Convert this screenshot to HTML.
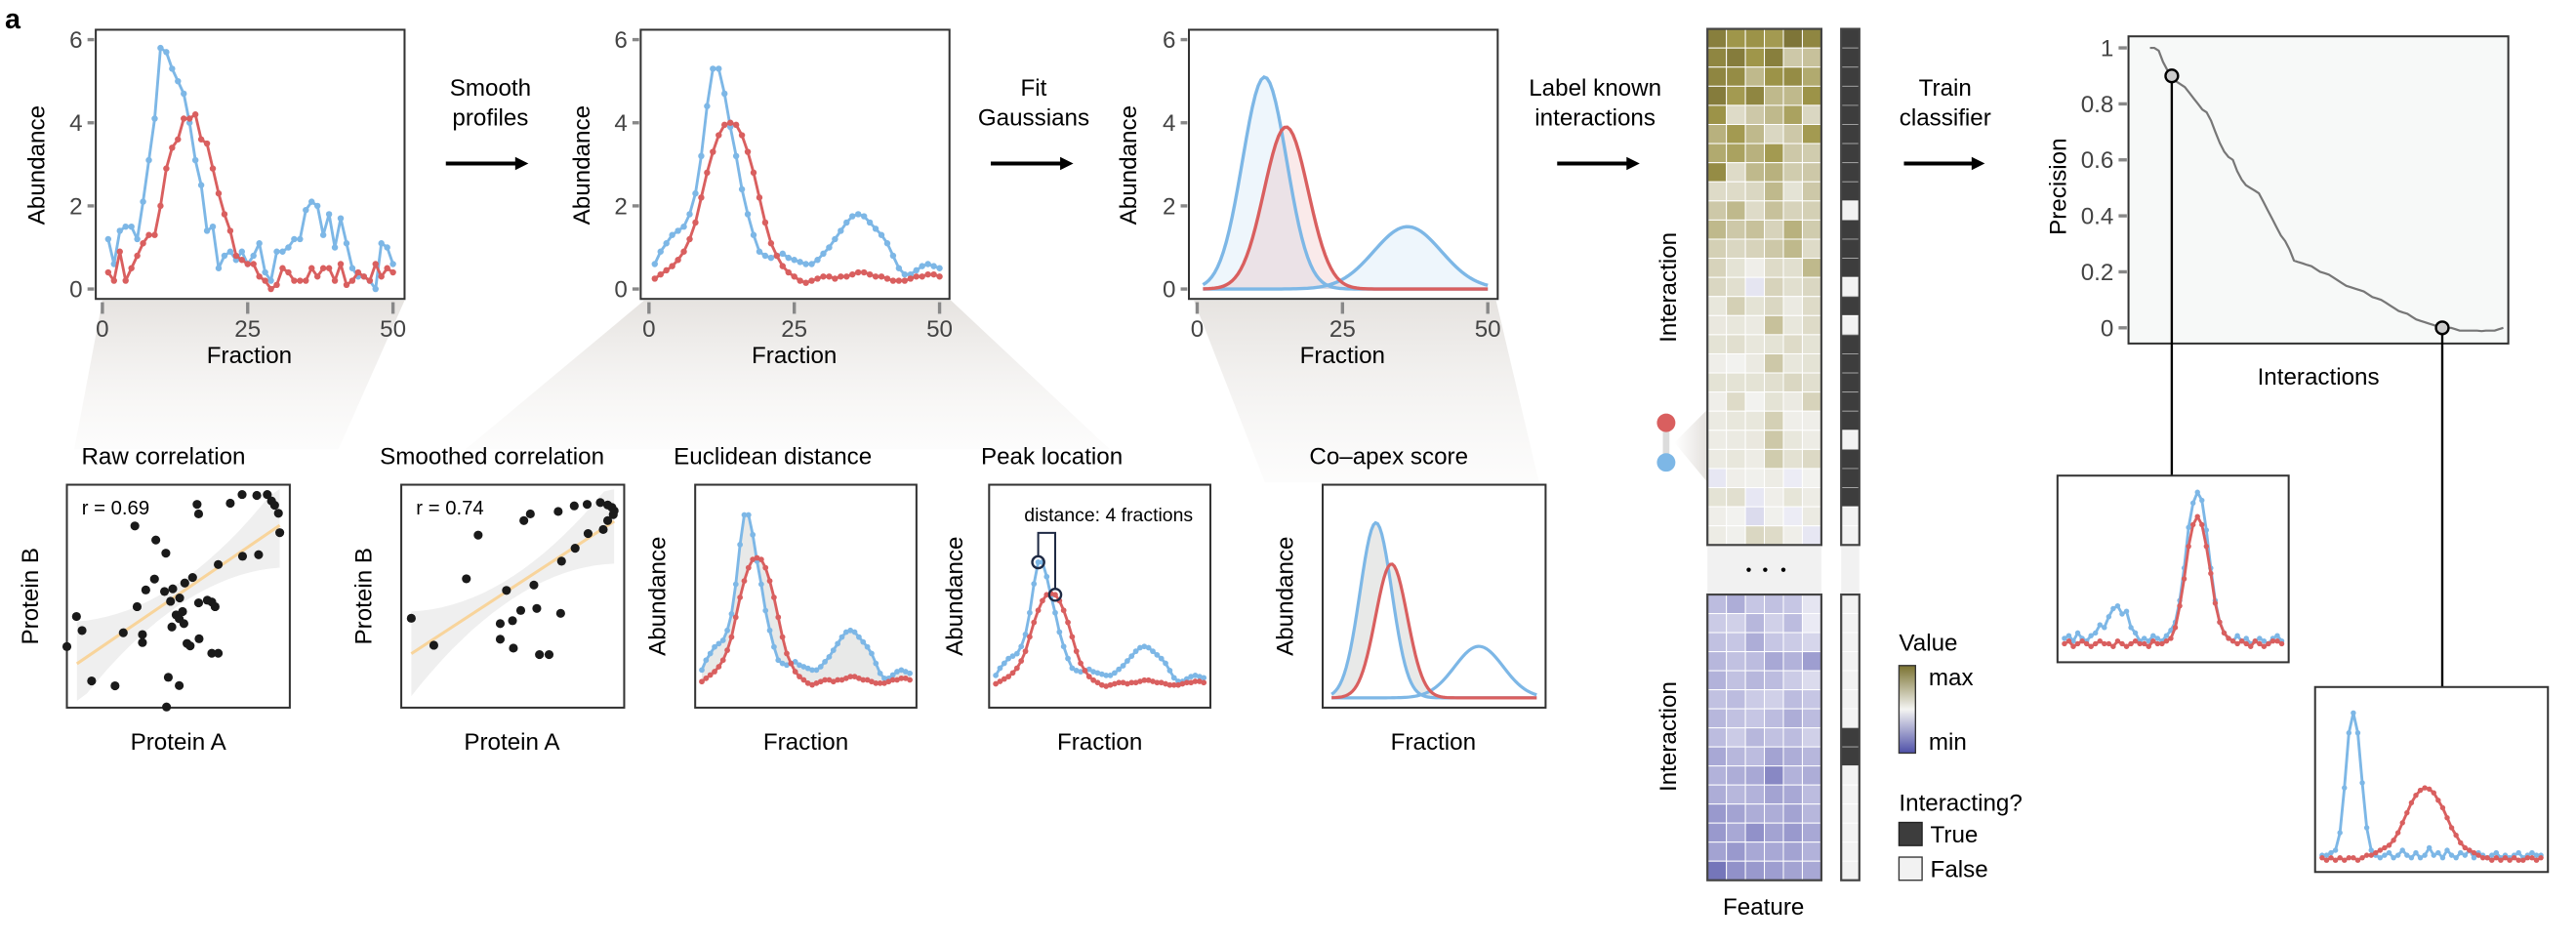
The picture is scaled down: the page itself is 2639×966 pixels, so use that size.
<!DOCTYPE html>
<html><head><meta charset="utf-8"><style>
html,body{margin:0;padding:0;background:#fff;}
svg{display:block;font-family:"Liberation Sans",Arial,sans-serif;}
</style></head><body>
<svg id="fig" width="2639" height="966" viewBox="0 0 1560 571" preserveAspectRatio="none" xmlns="http://www.w3.org/2000/svg">
<defs>
<linearGradient id="shade" x1="0" y1="0" x2="0" y2="1"><stop offset="0" stop-color="#e6e3e0"/><stop offset="1" stop-color="#f6f5f4" stop-opacity="0.3"/></linearGradient>
<linearGradient id="tri" x1="0" y1="0" x2="1" y2="0"><stop offset="0" stop-color="#fff"/><stop offset="1" stop-color="#e4e1dd"/></linearGradient>
<linearGradient id="cbar" x1="0" y1="0" x2="0" y2="1"><stop offset="0" stop-color="#7a7230"/><stop offset="0.5" stop-color="#f4f4f2"/><stop offset="1" stop-color="#4e50a8"/></linearGradient>
</defs>
<g id="shades">
<polygon points="62,182 245,182 205,272 45,272" fill="url(#shade)"/>
<polygon points="390,182 576,182 672,272 282,272" fill="url(#shade)"/>
<polygon points="723,182 906,182 932,292 766,292" fill="url(#shade)"/>
</g>
<text x="3" y="17" font-size="17" font-weight="bold">a</text>
<g font-size="14.3" fill="#000" text-anchor="middle">
<text x="297" y="58">Smooth</text>
<text x="297" y="76">profiles</text>
<text x="626" y="58">Fit</text>
<text x="626" y="76">Gaussians</text>
<text x="966" y="58">Label known</text>
<text x="966" y="76">interactions</text>
<text x="1178" y="58">Train</text>
<text x="1178" y="76">classifier</text>
<text x="99" y="281">Raw correlation</text>
<text x="298" y="281">Smoothed correlation</text>
<text x="468" y="281">Euclidean distance</text>
<text x="637" y="281">Peak location</text>
<text x="841" y="281">Co–apex score</text>
<text x="108" y="454">Protein A</text>
<text x="310" y="454">Protein A</text>
<text x="488" y="454">Fraction</text>
<text x="666" y="454">Fraction</text>
<text x="868" y="454">Fraction</text>
<text x="151" y="220">Fraction</text>
<text x="481" y="220">Fraction</text>
<text x="813" y="220">Fraction</text>
<text x="1404" y="233">Interactions</text>
<text x="1068" y="554">Feature</text>
<text transform="translate(27,100) rotate(-90)">Abundance</text>
<text transform="translate(357,100) rotate(-90)">Abundance</text>
<text transform="translate(688,100) rotate(-90)">Abundance</text>
<text transform="translate(23,361) rotate(-90)">Protein B</text>
<text transform="translate(225,361) rotate(-90)">Protein B</text>
<text transform="translate(403,361) rotate(-90)">Abundance</text>
<text transform="translate(583,361) rotate(-90)">Abundance</text>
<text transform="translate(783,361) rotate(-90)">Abundance</text>
<text transform="translate(1015,174) rotate(-90)">Interaction</text>
<text transform="translate(1015,446) rotate(-90)">Interaction</text>
<text transform="translate(1251,113) rotate(-90)">Precision</text>
</g>
<g font-size="14.3" fill="#000">
<text x="1150" y="394">Value</text>
<text x="1168" y="415">max</text>
<text x="1168" y="454">min</text>
<text x="1150" y="491">Interacting?</text>
<text x="1169" y="510">True</text>
<text x="1169" y="531">False</text>
<text x="176" y="40">protein A</text>
<text x="176" y="58">protein B</text>
</g>
<rect x="1150" y="403" width="10" height="53" fill="url(#cbar)" stroke="#333" stroke-width="0.8"/>
<rect x="1150" y="498" width="14" height="14" fill="#3d3d3d" stroke="#222" stroke-width="0.8"/>
<rect x="1150" y="519" width="14" height="14" fill="#f2f2f2" stroke="#333" stroke-width="0.8"/>
<g>
<line x1="151" y1="35" x2="168" y2="35" stroke="#7db7e6" stroke-width="3"/><circle cx="159.5" cy="35" r="3.2" fill="#7db7e6"/>
<line x1="151" y1="53" x2="168" y2="53" stroke="#d95f5f" stroke-width="3"/><circle cx="159.5" cy="53" r="3.2" fill="#d95f5f"/>
</g>
<g id="arrows" stroke="#000" stroke-width="2.4">
<line x1="270" y1="99" x2="314" y2="99"/><polygon points="312,95 320,99 312,103" fill="#000" stroke="none"/>
<line x1="600" y1="99" x2="644" y2="99"/><polygon points="642,95 650,99 642,103" fill="#000" stroke="none"/>
<line x1="943" y1="99" x2="987" y2="99"/><polygon points="985,95 993,99 985,103" fill="#000" stroke="none"/>
<line x1="1153" y1="99" x2="1196" y2="99"/><polygon points="1194,95 1202,99 1194,103" fill="#000" stroke="none"/>
</g>
<g>
<polygon points="1014,268 1034,248 1034,292" fill="url(#tri)"/>
<line x1="1009" y1="256" x2="1009" y2="280" stroke="#dcdcdc" stroke-width="4"/>
<circle cx="1009" cy="256" r="5.6" fill="#d95f5f"/>
<circle cx="1009" cy="280" r="5.6" fill="#7db7e6"/>
</g>
<g id="layer"></g>
</svg>
<script>
// ---------- data ----------
const rawA=[1.2,0.6,1.4,1.5,1.5,1.2,2.1,3.1,4.1,5.8,5.7,5.3,5.0,4.7,4.0,3.1,2.5,1.4,1.5,0.5,0.8,0.9,0.7,0.9,0.6,0.8,1.1,0.4,0.2,0.9,0.9,1.0,1.2,1.2,1.9,2.1,2.0,1.3,1.8,1.0,1.7,1.1,0.5,0.3,0.3,0.2,0.0,1.1,1.0,0.6];
const rawB=[0.4,0.2,0.9,0.2,0.5,0.8,1.1,1.3,1.3,2.0,2.9,3.4,3.6,4.1,4.1,4.2,3.6,3.5,2.9,2.3,1.8,1.4,0.8,0.7,0.6,0.6,0.3,0.2,0.0,0.1,0.5,0.4,0.2,0.2,0.2,0.5,0.3,0.5,0.5,0.2,0.6,0.1,0.2,0.4,0.3,0.2,0.6,0.3,0.5,0.4];
const smA=[0.6,0.9,1.1,1.3,1.4,1.5,1.8,2.3,3.2,4.4,5.3,5.3,4.7,3.9,3.2,2.4,1.8,1.3,0.9,0.8,0.75,0.8,0.85,0.75,0.7,0.65,0.6,0.6,0.7,0.85,1.0,1.2,1.4,1.6,1.75,1.8,1.75,1.6,1.45,1.3,1.1,0.8,0.5,0.35,0.35,0.45,0.55,0.6,0.55,0.5];
const smB=[0.25,0.35,0.45,0.55,0.7,0.9,1.2,1.6,2.2,2.8,3.3,3.7,3.95,4.0,3.95,3.7,3.3,2.8,2.2,1.6,1.1,0.8,0.55,0.4,0.3,0.2,0.15,0.2,0.25,0.3,0.3,0.25,0.3,0.3,0.35,0.4,0.4,0.35,0.3,0.3,0.25,0.2,0.2,0.2,0.25,0.3,0.3,0.35,0.35,0.3];
const gaussMu=[11.6,15.3,36.2];
const gaussSd=[3.8,3.8,5.8];
const gaussAmp=[5.1,3.9,1.5];
const gaussColor=['A','B','A'];
const rawCorA=[.584,.591,.733,.786,.852,.899,.918,.932,.949,.955,.305,.399,.444,.679,.788,.860,.564,.393,.529,.475,.438,.354,.506,.465,.315,.591,.630,.650,.665,.519,.490,.504,.525,.471,.043,.068,.253,.339,.339,.539,.553,.593,.650,.679,.0,.111,.216,.455,.504,.447];
const rawCorB=[.912,.869,.917,.956,.952,.956,.927,.908,.872,.785,.815,.752,.693,.642,.679,.686,.584,.577,.559,.533,.521,.528,.492,.477,.453,.470,.482,.474,.453,.431,.416,.399,.377,.362,.409,.346,.336,.328,.292,.288,.277,.309,.244,.244,.274,.120,.098,.136,.099,.003];
const rawFit=[0.197,0.818];
const smCorA=[.345,.550,.579,.704,.776,.834,.893,.926,.945,.955,.951,.926,.906,.838,.780,.719,.595,.472,.292,.045,.146,.444,.499,.536,.608,.715,.444,.503,.620,.663];
const smCorB=[.774,.839,.869,.880,.905,.912,.920,.909,.898,.883,.866,.839,.799,.781,.715,.657,.550,.526,.578,.401,.280,.377,.390,.436,.445,.423,.307,.267,.238,.238];
const smFit=[0.242,0.836];
const heatTop=[
[0.92,0.85,0.86,0.84,0.95,0.9],[0.9,0.93,0.85,0.92,0.72,0.74],[0.9,0.88,0.76,0.86,0.88,0.8],[0.93,0.84,0.9,0.76,0.76,0.86],
[0.86,0.62,0.72,0.76,0.82,0.64],[0.78,0.84,0.76,0.64,0.72,0.84],[0.8,0.82,0.78,0.84,0.72,0.7],[0.88,0.62,0.76,0.78,0.7,0.72],
[0.62,0.62,0.64,0.76,0.58,0.72],[0.72,0.76,0.62,0.74,0.66,0.68],[0.76,0.72,0.74,0.66,0.78,0.7],[0.68,0.64,0.66,0.72,0.76,0.62],
[0.66,0.58,0.52,0.62,0.6,0.76],[0.64,0.6,0.46,0.66,0.6,0.64],[0.56,0.68,0.58,0.64,0.54,0.62],[0.55,0.56,0.54,0.74,0.56,0.62],
[0.58,0.6,0.56,0.58,0.62,0.58],[0.52,0.5,0.54,0.72,0.56,0.58],[0.58,0.58,0.58,0.6,0.64,0.6],[0.52,0.62,0.5,0.58,0.54,0.66],
[0.54,0.56,0.56,0.68,0.52,0.52],[0.53,0.54,0.55,0.72,0.56,0.53],[0.54,0.56,0.53,0.7,0.59,0.63],[0.47,0.52,0.51,0.53,0.49,0.5],
[0.58,0.6,0.47,0.52,0.57,0.53],[0.52,0.5,0.42,0.51,0.49,0.54],[0.53,0.51,0.64,0.62,0.52,0.47]];
const heatBot=[
[0.3,0.24,0.34,0.32,0.34,0.46],[0.36,0.38,0.28,0.38,0.3,0.48],[0.32,0.34,0.24,0.34,0.36,0.4],[0.28,0.32,0.3,0.22,0.26,0.18],
[0.26,0.32,0.28,0.3,0.36,0.42],[0.32,0.3,0.36,0.38,0.3,0.34],[0.28,0.32,0.34,0.3,0.24,0.3],[0.3,0.36,0.28,0.32,0.3,0.38],
[0.22,0.28,0.3,0.2,0.24,0.28],[0.26,0.24,0.22,0.12,0.26,0.24],[0.24,0.28,0.26,0.2,0.22,0.3],[0.16,0.2,0.24,0.24,0.2,0.28],
[0.16,0.22,0.14,0.2,0.16,0.22],[0.2,0.16,0.22,0.22,0.2,0.26],[0.08,0.14,0.16,0.18,0.2,0.22]];
const labelTop=[1,1,1,1,1,1,1,1,1,0,1,1,1,0,1,0,1,1,1,1,1,0,1,1,1,0,0];
const labelBot=[0,0,0,0,0,0,0,1,1,0,0,0,0,0,0];
const prPrecision=[1.0,1.0,0.99,0.95,0.92,0.9,0.88,0.87,0.86,0.84,0.82,0.8,0.78,0.77,0.74,0.7,0.66,0.63,0.61,0.6,0.56,0.53,0.51,0.5,0.49,0.48,0.45,0.42,0.39,0.36,0.33,0.31,0.28,0.24,0.235,0.23,0.225,0.22,0.21,0.2,0.195,0.19,0.18,0.17,0.16,0.15,0.145,0.14,0.135,0.13,0.12,0.11,0.105,0.1,0.09,0.08,0.07,0.06,0.055,0.05,0.04,0.03,0.025,0.02,0.015,0.01,0.005,0.0,0.0,0.0,-0.005,-0.01,-0.01,-0.01,-0.01,-0.01,-0.012,-0.01,-0.01,-0.01,-0.005,0.0];
const prMarked=[5,67];
const inset1A=[0.4,0.5,0.3,0.6,0.4,0.3,0.5,0.6,0.9,0.8,1.2,1.5,1.6,1.3,1.4,0.8,0.6,0.3,0.4,0.3,0.5,0.4,0.3,0.5,0.7,1.0,1.8,3.0,4.5,5.4,5.8,5.5,4.4,3.0,1.8,1.0,0.6,0.4,0.3,0.5,0.3,0.4,0.2,0.3,0.4,0.3,0.2,0.4,0.5,0.3];
const inset1B=[0.2,0.3,0.1,0.2,0.3,0.2,0.1,0.2,0.3,0.2,0.2,0.1,0.3,0.2,0.1,0.2,0.3,0.2,0.2,0.1,0.3,0.2,0.2,0.3,0.4,0.8,1.6,2.6,3.8,4.6,4.9,4.6,3.8,2.8,1.7,1.0,0.6,0.4,0.3,0.2,0.3,0.2,0.1,0.3,0.2,0.1,0.2,0.3,0.3,0.2];
const inset2A=[0.3,0.3,0.4,0.5,1.2,3.0,5.2,6.0,5.2,3.2,1.4,0.5,0.3,0.2,0.3,0.4,0.2,0.3,0.5,0.3,0.2,0.4,0.2,0.3,0.6,0.3,0.4,0.2,0.5,0.3,0.2,0.4,0.3,0.5,0.2,0.4,0.3,0.2,0.3,0.4,0.2,0.3,0.2,0.3,0.4,0.2,0.3,0.4,0.3,0.3];
const inset2B=[0.2,0.1,0.2,0.1,0.2,0.1,0.2,0.2,0.1,0.2,0.3,0.3,0.4,0.5,0.6,0.7,0.9,1.2,1.6,2.0,2.4,2.7,2.9,3.0,2.95,2.8,2.5,2.2,1.8,1.4,1.1,0.8,0.6,0.5,0.4,0.3,0.2,0.2,0.1,0.2,0.1,0.2,0.1,0.2,0.1,0.1,0.2,0.2,0.1,0.2];
const abTicks=[0,2,4,6];
const fracTicks=[0,25,50];
const prTicks=[0,0.2,0.4,0.6,0.8,1];
const prTickLabels=['0','0.2','0.4','0.6','0.8','1'];
const peakIdx=[10,14];

// ---------- helpers ----------
const NS='http://www.w3.org/2000/svg';
const layer=document.getElementById('layer');
function el(tag,attrs,parent){const e=document.createElementNS(NS,tag);for(const k in attrs)e.setAttribute(k,attrs[k]);(parent||layer).appendChild(e);return e;}
const BLUE='#7db7e6',RED='#d95f5f';
function col(s){return s==='A'?BLUE:RED;}
function pathD(xs,ys){return xs.map((x,i)=>(i?'L':'M')+x.toFixed(2)+','+ys[i].toFixed(2)).join('');}
function gauss(f,k){return gaussAmp[k]*Math.exp(-Math.pow(f-gaussMu[k],2)/(2*gaussSd[k]*gaussSd[k]));}
function hex(h){return [1,3,5].map(i=>parseInt(h.substr(i,2),16));}
function mix(a,b,t){const A=hex(a),B=hex(b);return 'rgb('+A.map((v,i)=>Math.round(v+(B[i]-v)*t)).join(',')+')';}
function stops(st,t){for(let i=1;i<st.length;i++){if(t<=st[i][0]){const u=(t-st[i-1][0])/(st[i][0]-st[i-1][0]);return mix(st[i-1][1],st[i][1],u);}}return st[st.length-1][1];}
const olive=[[0,'#f2f2ef'],[0.45,'#ccc7a6'],[0.7,'#9f964a'],[1,'#6e652f']];
const lav=[[0,'#efeff6'],[0.4,'#bcbcdf'],[0.7,'#9696cc'],[1,'#4f51a6']];
function heatColor(v){return v>=0.5?stops(olive,(v-0.5)/0.5):stops(lav,(0.5-v)/0.5);}

// ---------- top profile panels ----------
function topPanel(name,bx,xa){
  const g=el('g',{});
  
  
  const xs=f=>xa+f*176/50, ys=v=>175-v*(151/6);
  const box=el('rect',{x:bx,y:18,width:187,height:163,fill:'#fff',stroke:'#333','stroke-width':1.2},g);
  
  
  abTicks.forEach(t=>{
    const tk=el('line',{x1:bx-5,x2:bx-1,y1:ys(t),y2:ys(t),stroke:'#888','stroke-width':2},g);
    
    
    const lb=el('text',{x:bx-8,y:ys(t)+5,'text-anchor':'end','font-size':14.3,fill:'#444'},g);
    lb.textContent=t;
    
    
  });
  fracTicks.forEach(t=>{
    const tk=el('line',{x1:xs(t),x2:xs(t),y1:183,y2:190,stroke:'#888','stroke-width':2},g);
    
    
    const lb=el('text',{x:xs(t),y:204,'text-anchor':'middle','font-size':14.3,fill:'#444'},g);
    lb.textContent=t;
    
    
  });
  return {g,xs,ys};
}
function profile(g,xs,ys,vals,c,name,r){
  const X=vals.map((v,i)=>xs(i+1)),Y=vals.map(v=>ys(v));
  const p=el('path',{d:pathD(X,Y),fill:'none',stroke:c,'stroke-width':1.7,'stroke-linejoin':'round'},g);
  
  
  X.forEach((x,i)=>{
    const d=el('circle',{cx:x,cy:Y[i],r:r,fill:c},g);
    
    
  });
}
let P=topPanel('raw-profile-chart',58,62);
profile(P.g,P.xs,P.ys,rawA,BLUE,'raw-protein-a',1.9);
profile(P.g,P.xs,P.ys,rawB,RED,'raw-protein-b',1.9);
P=topPanel('smoothed-profile-chart',388,393);
profile(P.g,P.xs,P.ys,smA,BLUE,'smoothed-protein-a',1.9);
profile(P.g,P.xs,P.ys,smB,RED,'smoothed-protein-b',1.9);
P=topPanel('gaussian-fit-chart',720,725);
const F=[];for(let f=1;f<=50;f+=0.5)F.push(f);
[0,1,2].forEach(k=>{
  const X=F.map(f=>P.xs(f)),Y=F.map(f=>P.ys(gauss(f,k)));
  const fill=el('path',{d:pathD(X,Y)+'L'+X[X.length-1]+','+P.ys(0)+'L'+X[0]+','+P.ys(0)+'Z',fill:k===1?'rgba(217,95,95,0.13)':'rgba(125,183,230,0.13)',stroke:'none'},P.g);
  
  
});
[2,0,1].forEach(k=>{
  const X=F.map(f=>P.xs(f)),Y=F.map(f=>P.ys(gauss(f,k)));
  const ln=el('path',{d:pathD(X,Y),fill:'none',stroke:col(gaussColor[k]),'stroke-width':2},P.g);
  
  
});

// ---------- scatter panels ----------
function scatter(name,bx,A,B,fit,rtxt){
  const g=el('g',{});
  
  
  const W=135,H=135,by=293.5;
  const xs=a=>bx+a*W, ys=b=>by+(1-b)*H;
  const box=el('rect',{x:bx,y:by,width:W,height:H,fill:'#fff',stroke:'#333','stroke-width':1.2},g);
  
  
  const x0=0.045,x1=0.955,yl=fit[0],yr=fit[1];
  const mid=(x0+x1)/2;
  const band=[];const n=20;
  for(let i=0;i<=n;i++){const a=x0+(x1-x0)*i/n;const w=0.05+0.28*Math.pow((a-mid)/(x1-x0),2)*2;band.push([a,yl+(yr-yl)*i/n+w]);}
  for(let i=n;i>=0;i--){const a=x0+(x1-x0)*i/n;const w=0.05+0.28*Math.pow((a-mid)/(x1-x0),2)*2;band.push([a,Math.max(0.03,yl+(yr-yl)*i/n-w)]);}
  const bp=el('polygon',{points:band.map(p=>xs(p[0]).toFixed(1)+','+ys(Math.min(0.98,p[1])).toFixed(1)).join(' '),fill:'#efefef'},g);
  
  
  const fl=el('line',{x1:xs(x0),y1:ys(yl),x2:xs(x1),y2:ys(yr),stroke:'#f8d49b','stroke-width':1.8},g);
  
  
  A.forEach((a,i)=>{
    const d=el('circle',{cx:xs(a),cy:ys(B[i]),r:2.7,fill:'#1a1a1a'},g);
    
    
  });
  const t=el('text',{x:bx+9,y:by+18,'font-size':12,fill:'#000'},g);
  t.textContent=rtxt;
  
  
}
scatter('raw-correlation-chart',40.5,rawCorA,rawCorB,rawFit,'r = 0.69');
scatter('smoothed-correlation-chart',243,smCorA,smCorB,smFit,'r = 0.74');

// ---------- small profile panels ----------
function smallBox(name,bx,by,W,H){
  const g=el('g',{});
  
  
  const box=el('rect',{x:bx,y:by,width:W,height:H,fill:'#fff',stroke:'#333','stroke-width':1.2},g);
  
  
  return g;
}
function fillBetween(g,X,Y1,Y2,name){
  let d=pathD(X,Y1);for(let i=X.length-1;i>=0;i--)d+='L'+X[i].toFixed(2)+','+Y2[i].toFixed(2);
  const p=el('path',{d:d+'Z',fill:'#e8e9e8',stroke:'none'},g);
  
  
}
let g=smallBox('euclidean-distance-chart',421,293.5,134,135);
let xs=f=>421+134*(0.03+0.94*(f-1)/49), ys=v=>293.5+135*(0.92-v*0.148);
fillBetween(g,smA.map((v,i)=>xs(i+1)),smA.map(ys),smB.map(ys),'euclidean-difference-area');
profile(g,xs,ys,smA,BLUE,'euclid-protein-a',1.7);
profile(g,xs,ys,smB,RED,'euclid-protein-b',1.7);
g=smallBox('peak-location-chart',599,293.5,134,135);
xs=f=>599+134*(0.03+0.94*(f-1)/49); ys=v=>293.5+135*(0.92-v*0.108);
profile(g,xs,ys,smA,BLUE,'peak-protein-a',1.7);
profile(g,xs,ys,smB,RED,'peak-protein-b',1.7);
const pa=[xs(peakIdx[0]+1),ys(smA[peakIdx[0]])],pb=[xs(peakIdx[1]+1),ys(smB[peakIdx[1]])];
const topY=293.5+135*0.216;
const br=el('path',{d:'M'+pa[0]+','+(pa[1]-3.5)+'L'+pa[0]+','+topY+'L'+pb[0]+','+topY+'L'+pb[0]+','+(pb[1]-3.5),fill:'none',stroke:'#1f2a44','stroke-width':1.2},g);


[pa,pb].forEach(p=>{
  const c=el('circle',{cx:p[0],cy:p[1],r:3.6,fill:'none',stroke:'#1f2a44','stroke-width':1.4},g);
  
  
});
const dt=el('text',{x:599+134*0.54,y:293.5+135*0.165,'text-anchor':'middle','font-size':11.5,fill:'#000'},g);
dt.textContent='distance: 4 fractions';


g=smallBox('co-apex-chart',801,293.5,135,135);
xs=f=>801+135*(0.04+0.92*(f-1)/49); ys=v=>293.5+135*(0.956-v*0.154);
fillBetween(g,F.map(xs),F.map(f=>ys(gauss(f,0))),F.map(f=>ys(gauss(f,1))),'co-apex-area');
[2,0,1].forEach(k=>{
  const ln=el('path',{d:pathD(F.map(xs),F.map(f=>ys(gauss(f,k)))),fill:'none',stroke:col(gaussColor[k]),'stroke-width':1.9},g);
  
  
});

// ---------- heatmap ----------
function heat(name,data,y0,y1){
  const hg=el('g',{});
  
  
  const x0=1034,x1=1103,cw=(x1-x0)/6,ch=(y1-y0)/data.length;
  data.forEach((row,r)=>row.forEach((v,c)=>{
    const cell=el('rect',{x:x0+c*cw,y:y0+r*ch,width:cw,height:ch,fill:heatColor(v),stroke:'#fff','stroke-width':0.6},hg);
    
    
  }));
  const fr=el('rect',{x:x0,y:y0,width:x1-x0,height:y1-y0,fill:'none',stroke:'#444','stroke-width':1.3},hg);
  
  
}
function labels(name,data,y0,y1){
  const lg=el('g',{});
  
  
  const ch=(y1-y0)/data.length;
  data.forEach((v,r)=>{
    const cell=el('rect',{x:1115,y:y0+r*ch,width:11,height:ch,fill:v?'#3d3d3d':'#f2f2f2',stroke:v?'#aaa':'#fff','stroke-width':0.5},lg);
    
    
  });
  const fr=el('rect',{x:1115,y:y0,width:11,height:y1-y0,fill:'none',stroke:'#444','stroke-width':1.3},lg);
  
  
}
const gap1=el('rect',{x:1034,y:331,width:69,height:28,fill:'#f1f1f1'});


const gap2=el('rect',{x:1115,y:331,width:11,height:28,fill:'#f1f1f1'});


[1059,1069,1080].forEach(x=>{
  const d=el('circle',{cx:x,cy:345,r:1.3,fill:'#000'});
  
  
});
heat('heatmap-positive',heatTop,17.5,330);
heat('heatmap-negative',heatBot,360,533);
labels('label-bar-positive',labelTop,17.5,330);
labels('label-bar-negative',labelBot,360,533);

// ---------- precision curve ----------
const prg=el('g',{});


const prBox=el('rect',{x:1289,y:22,width:230,height:186,fill:'#f7f9f8',stroke:'#333','stroke-width':1.2},prg);


const prY=p=>198.5-p*169.5, prX=i=>1302+i*214/(prPrecision.length-1);
prTicks.forEach((t,i)=>{
  const tk=el('line',{x1:1283,x2:1288,y1:prY(t),y2:prY(t),stroke:'#888','stroke-width':2},prg);
  
  
  const lb=el('text',{x:1280,y:prY(t)+5,'text-anchor':'end','font-size':14.3,fill:'#444'},prg);
  lb.textContent=prTickLabels[i];
  
  
});
let pd='';prPrecision.forEach((p,i)=>{pd+=(i?'L':'M')+prX(i).toFixed(1)+','+prY(p).toFixed(1);});
const prl=el('path',{d:pd,fill:'none',stroke:'#777','stroke-width':1.3,'stroke-linejoin':'round'},prg);


const insetTops=[288,416];
prMarked.forEach((i,k)=>{
  const ln=el('line',{x1:prX(i),y1:prY(prPrecision[i]),x2:prX(i),y2:insetTops[k],stroke:'#000','stroke-width':1.4});
  
  
  const c=el('circle',{cx:prX(i),cy:prY(prPrecision[i]),r:3.8,fill:'#ccc',stroke:'#000','stroke-width':1.4});
  
  
});
g=smallBox('top-pair-inset',1246,288,140,113);
xs=f=>1246+140*(0.03+0.94*(f-1)/49); ys=v=>288+113*(0.93-v*0.145);
profile(g,xs,ys,inset1A,BLUE,'inset1-protein-a',1.6);
profile(g,xs,ys,inset1B,RED,'inset1-protein-b',1.6);
g=smallBox('low-pair-inset',1402,416,141,112);
xs=f=>1402+141*(0.03+0.94*(f-1)/49); ys=v=>416+112*(0.95-v*0.135);
profile(g,xs,ys,inset2A,BLUE,'inset2-protein-a',1.6);
profile(g,xs,ys,inset2B,RED,'inset2-protein-b',1.6);
</script>
</body></html>
